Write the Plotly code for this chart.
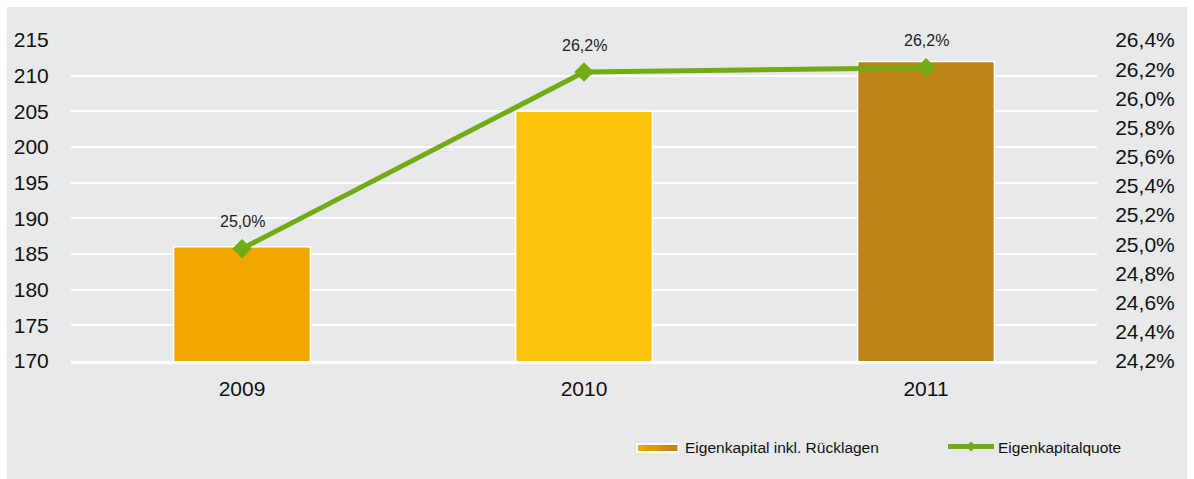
import plotly.graph_objects as go

# Data
years = ["2009", "2010", "2011"]
equity = [186, 205, 212]               # Eigenkapital inkl. Rücklagen
equity_ratio = [24.97, 26.18, 26.21]   # Eigenkapitalquote in %
bar_colors = ["#f3a600", "#f9c20b", "#bf8215"]
series_names = ["Eigenkapital inkl. Rücklagen", "Eigenkapitalquote"]

left_ticks = list(range(170, 216, 5))
right_ticks = [round(24.2 + 0.2 * i, 1) for i in range(12)]

W, H = 1194, 479
ML, MR, MT, MB = 71, 97, 40, 118
PW, PH = W - ML - MR, H - MT - MB
panel = "#e8e9eb"
green = "#72ab14"
font_family = "Liberation Sans, Arial, sans-serif"


def pct(v):
    return f"{v:.1f}".replace(".", ",") + "%"


def px_x(x):
    """pixel column -> paper x"""
    return (x - ML) / PW


def px_y(y):
    """pixel row -> paper y"""
    return (H - MB - y) / PH


def blend(c1, c2, t):
    a = [int(c1[i:i + 2], 16) for i in (1, 3, 5)]
    b = [int(c2[i:i + 2], 16) for i in (1, 3, 5)]
    return "#" + "".join(f"{round(p + (q - p) * t):02x}" for p, q in zip(a, b))


fig = go.Figure()

fig.add_trace(go.Bar(
    x=years, y=equity, name=series_names[0],
    marker=dict(color=bar_colors, line=dict(color="white", width=1.5)),
    width=0.4, showlegend=False,
))

fig.add_trace(go.Scatter(
    x=years, y=equity_ratio, name=series_names[1], yaxis="y2",
    mode="lines+markers",
    line=dict(color=green, width=5),
    marker=dict(symbol="diamond", size=15, color=green),
    showlegend=False,
))

# value labels above the line points (x given as category index)
for i, v in enumerate(equity_ratio):
    fig.add_annotation(
        x=i, y=v, xref="x", yref="y2", text=pct(v), showarrow=False,
        yshift=27, font=dict(size=16, color="#222222", family=font_family),
    )

shapes = []
# grey panel with a thin white frame around it
shapes.append(dict(
    type="rect", xref="paper", yref="paper",
    x0=px_x(7), x1=px_x(1187), y0=px_y(482), y1=px_y(7),
    fillcolor=panel, line=dict(width=0), layer="below",
))

# legend: bar swatch (white frame + colour ramp)
sw_x0, sw_x1, sw_y0, sw_y1 = 636, 679, 443, 453
shapes.append(dict(
    type="rect", xref="paper", yref="paper",
    x0=px_x(sw_x0), x1=px_x(sw_x1), y0=px_y(sw_y1), y1=px_y(sw_y0),
    fillcolor="white", line=dict(width=0),
))
n_steps = 13
inner_x0, inner_x1 = sw_x0 + 2, sw_x1 - 2
step = (inner_x1 - inner_x0) / n_steps
for k in range(n_steps):
    shapes.append(dict(
        type="rect", xref="paper", yref="paper",
        x0=px_x(inner_x0 + k * step), x1=px_x(inner_x0 + (k + 1) * step + 0.5),
        y0=px_y(sw_y1 - 2), y1=px_y(sw_y0 + 2),
        fillcolor=blend(bar_colors[0], bar_colors[2], k / (n_steps - 1)),
        line=dict(width=0),
    ))

# legend: line swatch with small diamond
ly, lx0, lx1 = 446.5, 948, 994
shapes.append(dict(
    type="line", xref="paper", yref="paper",
    x0=px_x(lx0), x1=px_x(lx1), y0=px_y(ly), y1=px_y(ly),
    line=dict(color=green, width=5),
))
cx = (lx0 + lx1) / 2
shapes.append(dict(
    type="path", xref="paper", yref="paper",
    path=(f"M {px_x(cx - 5)} {px_y(ly)} L {px_x(cx)} {px_y(ly - 5)} "
          f"L {px_x(cx + 5)} {px_y(ly)} L {px_x(cx)} {px_y(ly + 5)} Z"),
    fillcolor=green, line=dict(width=0),
))

for name, x0 in zip(series_names, [683, 996]):
    fig.add_annotation(
        x=px_x(x0), y=px_y(447.5), xref="paper", yref="paper",
        xanchor="left", yanchor="middle", text=name, showarrow=False,
        font=dict(size=15.5, color="#111111", family=font_family),
    )

fig.update_layout(
    width=W, height=H,
    margin=dict(l=ML, r=MR, t=MT, b=MB, autoexpand=False),
    paper_bgcolor="white", plot_bgcolor=panel,
    font=dict(family=font_family, color="#111111", size=21),
    shapes=shapes,
    showlegend=False,
    xaxis=dict(
        type="category", range=[-0.5, 2.5], showgrid=False, zeroline=False,
        showline=True, linecolor="white", linewidth=3,
        ticks="outside", ticklen=7, tickcolor="rgba(0,0,0,0)",
        tickfont=dict(size=21),
    ),
    yaxis=dict(
        range=[170, 215], tickvals=left_ticks, showgrid=True,
        gridcolor="white", gridwidth=2, zeroline=False,
        ticks="outside", ticklen=17, tickcolor="rgba(0,0,0,0)",
        tickfont=dict(size=21),
    ),
    yaxis2=dict(
        range=[24.2, 26.4], tickvals=right_ticks,
        ticktext=[pct(t) for t in right_ticks],
        overlaying="y", side="right", showgrid=False, zeroline=False,
        ticks="outside", ticklen=13, tickcolor="rgba(0,0,0,0)",
        tickfont=dict(size=21),
    ),
)

fig.write_html("out.html")
